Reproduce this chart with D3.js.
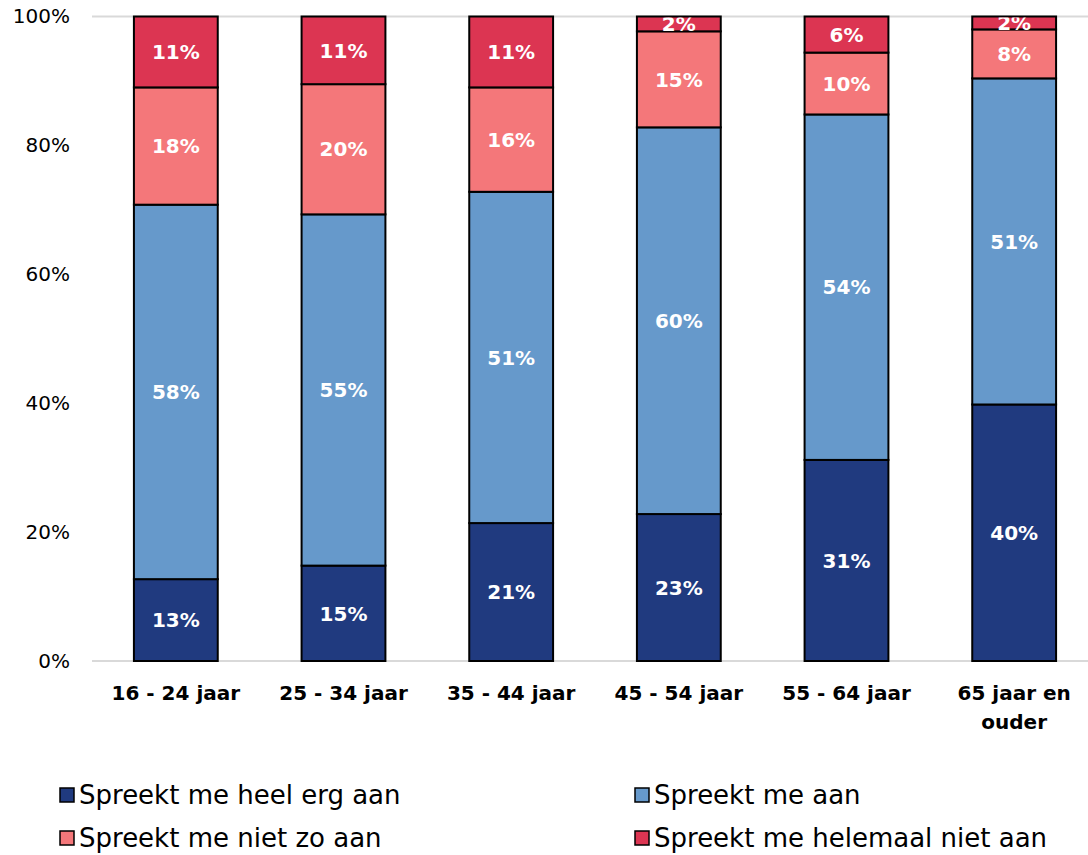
<!DOCTYPE html>
<html>
<head>
<meta charset="utf-8">
<script src="https://cdn.jsdelivr.net/npm/d3@7"></script>
<style>
	body { margin: 0; background: #ffffff; }
	.vis text { font-family: "DejaVu Sans", sans-serif; }
</style>
</head>
<body>
<div class="vis"></div>
<script>
'use strict';

// age groups on the x axis
var ageGroups = ['16 - 24 jaar', '25 - 34 jaar', '35 - 44 jaar', '45 - 54 jaar', '55 - 64 jaar', '65 jaar en ouder'];

// answer categories, bottom to top
var answers = ['Spreekt me heel erg aan', 'Spreekt me aan', 'Spreekt me niet zo aan', 'Spreekt me helemaal niet aan'];

// shares in percent per answer, one value per age group
var veryAppealing = [12.7, 14.8, 21.4, 22.8, 31.2, 39.8];
var appealing = [58.1, 54.5, 51.4, 60.0, 53.6, 50.6];
var notSoAppealing = [18.2, 20.2, 16.2, 14.9, 9.6, 7.6];
var notAtAllAppealing = [11.0, 10.5, 11.0, 2.3, 5.6, 2.0];

var yTicks = [0, 20, 40, 60, 80, 100];

(function ( window, document, undefined ) {

	var width = 1088;
	var height = 855;

	var colors = ['#203a7f', '#6699cb', '#f4777a', '#dc3552'];
	var gridColor = '#d9d9d9';

	var series = [veryAppealing, appealing, notSoAppealing, notAtAllAppealing];

	// one row per age group, one key per answer
	var rows = ageGroups.map(function(group, i) {
		var row = { group: group };
		answers.forEach(function(answer, k) { row[answer] = series[k][i]; });
		return row;
	});

	var stacked = d3.stack().keys( answers )( rows );

	// scales
	var x = d3.scaleBand()
		.domain( ageGroups )
		.range( [92, 1098] )
		.paddingInner( 0.5 )
		.paddingOuter( 0.25 );

	var y = d3.scaleLinear()
		.domain( [0, 100] )
		.range( [661, 16.5] );

	var svg = d3.select('.vis')
		.append('svg')
			.attr('width', width)
			.attr('height', height);

	// clip labels to the plot area
	svg.append('clipPath')
		.attr('id', 'plot-clip')
		.append('rect')
			.attr('x', 92)
			.attr('y', y(100) + 1)
			.attr('width', width - 92)
			.attr('height', y(0) - y(100));

	// grid lines only at 0% and 100%
	svg.append('g')
		.selectAll('line')
		.data( [0, 100] )
		.enter()
		.append('line')
			.attr('x1', 92)
			.attr('x2', width)
			.attr('y1', function(d) { return y(d); })
			.attr('y2', function(d) { return y(d); })
			.attr('stroke', gridColor)
			.attr('stroke-width', 2);

	// y axis labels
	var yAxis = svg.append('g')
		.attr('transform', 'translate(70,0)')
		.call( d3.axisLeft( y ).tickValues( yTicks ).tickSize( 0 ).tickPadding( 0 )
			.tickFormat(function(d) { return d + '%'; }) );

	yAxis.select('.domain').remove();
	yAxis.selectAll('text')
		.attr('fill', '#000000')
		.style('font-size', '20px');

	// bars
	var layers = svg.append('g')
		.selectAll('g')
		.data( stacked )
		.enter()
		.append('g')
			.attr('fill', function(d, i) { return colors[i]; });

	layers.selectAll('rect')
		.data(function(d) { return d; })
		.enter()
		.append('rect')
			.attr('x', function(d) { return x( d.data.group ); })
			.attr('y', function(d) { return y( d[1] ); })
			.attr('width', x.bandwidth())
			.attr('height', function(d) { return y( d[0] ) - y( d[1] ); })
			.attr('stroke', '#000000')
			.attr('stroke-width', 2);

	// value labels
	var labels = svg.append('g')
		.attr('clip-path', 'url(#plot-clip)');

	stacked.forEach(function(layer) {
		labels.selectAll(null)
			.data( layer )
			.enter()
			.append('text')
				.attr('x', function(d) { return x( d.data.group ) + x.bandwidth() / 2; })
				.attr('y', function(d) { return ( y( d[0] ) + y( d[1] ) ) / 2; })
				.attr('dy', '0.36em')
				.attr('text-anchor', 'middle')
				.attr('fill', '#ffffff')
				.style('font-size', '20px')
				.style('font-weight', 'bold')
				.text(function(d) { return Math.round( d[1] - d[0] ) + '%'; });
	});

	// x axis labels
	var xAxis = svg.append('g')
		.attr('transform', 'translate(0,' + y(0) + ')')
		.call( d3.axisBottom( x ).tickSize( 0 ).tickPadding( 0 ) );

	xAxis.select('.domain').remove();
	xAxis.selectAll('text')
		.attr('fill', '#000000')
		.attr('y', 0)
		.attr('dy', 0)
		.style('font-size', '20px')
		.style('font-weight', 'bold')
		.call( wrap, 140 );

	// legend
	var legend = svg.append('g')
		.selectAll('g')
		.data( answers )
		.enter()
		.append('g')
			.attr('transform', function(d, i) {
				return 'translate(' + ( i % 2 === 0 ? 60 : 635 ) + ',' + ( 788 + Math.floor( i / 2 ) * 43 ) + ')';
			});

	legend.append('rect')
		.attr('width', 14)
		.attr('height', 14)
		.attr('fill', function(d, i) { return colors[i]; })
		.attr('stroke', '#000000')
		.attr('stroke-width', 1.5);

	legend.append('text')
		.attr('x', 19)
		.attr('y', 7)
		.attr('dy', '0.36em')
		.attr('fill', '#000000')
		.style('font-size', '26px')
		.text(function(d) { return d; });

	/**
	 * Wraps tick labels into lines no wider than the given width.
	 *
	 * @param {selection} text tick label texts
	 * @param {number} maxWidth width in pixels
	 */
	function wrap( text, maxWidth ) {
		text.each(function() {
			var node = d3.select( this );
			var words = node.text().split(/\s+/);
			var lines = [];
			var line = [];

			node.text( null );
			var probe = node.append('tspan');

			words.forEach(function(word) {
				line.push( word );
				probe.text( line.join(' ') );
				if ( probe.node().getComputedTextLength() > maxWidth && line.length > 1 ) {
					line.pop();
					lines.push( line.join(' ') );
					line = [word];
				}
			});
			lines.push( line.join(' ') );
			probe.remove();

			lines.forEach(function(l, i) {
				node.append('tspan')
					.attr('x', 0)
					.attr('y', 39 + i * 29)
					.text( l );
			});
		});
	}

})( this, document );
</script>
</body>
</html>
